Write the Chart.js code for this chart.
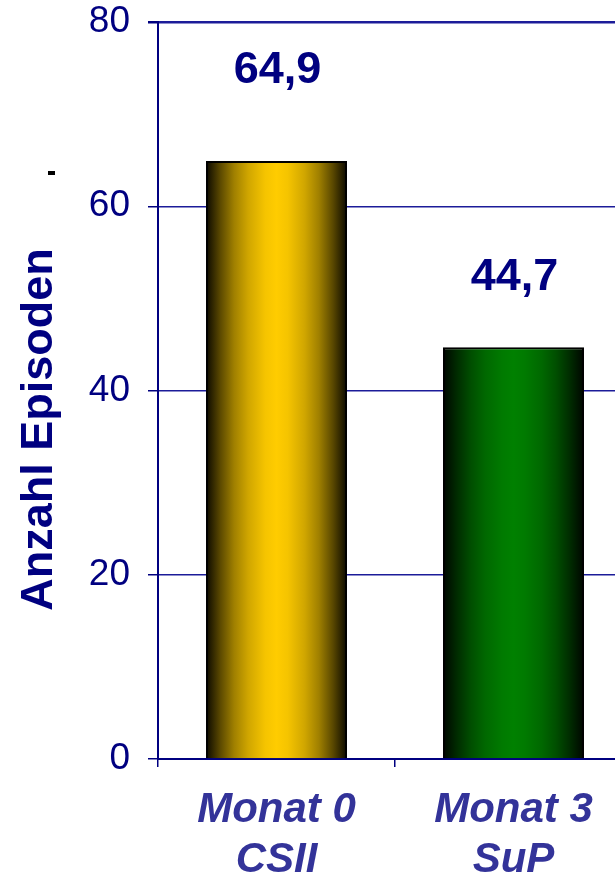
<!DOCTYPE html>
<html>
<head>
<meta charset="utf-8">
<script src="https://cdn.jsdelivr.net/npm/chart.js@4"></script>
<style>
  html, body { margin: 0; padding: 0; background: #fff; overflow: hidden; }
  #wrap { position: absolute; left: 0; top: 0; width: 640px; height: 875px; }
</style>
</head>
<body>
<div id="wrap"><canvas id="c"></canvas></div>
<script>
// Episodes per period
const categories = [['Monat 0', 'CSII'], ['Monat 3', 'SuP']];
const episodes = [64.9, 44.7];
const valueLabels = ['64,9', '44,7'];
const yTickValues = [0, 20, 40, 60, 80];
const axisTitle = 'Anzahl Episoden';

// Cylinder-like shading for each bar: dark edges, bright centre
const barShades = [
  [[0, '#0a0800'], [0.1, '#5a4800'], [0.2, '#a08000'], [0.3, '#d0a600'], [0.42, '#f5c400'], [0.5, '#ffcc00'],
   [0.58, '#f5c400'], [0.7, '#d0a600'], [0.8, '#a08000'], [0.9, '#5a4800'], [1, '#0a0800']],
  [[0, '#000500'], [0.1, '#002c00'], [0.2, '#004f00'], [0.3, '#006800'], [0.42, '#007a00'], [0.5, '#008000'],
   [0.58, '#007a00'], [0.7, '#006800'], [0.8, '#004f00'], [0.9, '#002c00'], [1, '#000500']]
];
const labelLift = [91, 70];

const NAVY = '#000080';
const BAR_FRACTION = 0.595;

function barFill(ctx) {
  const chart = ctx.chart;
  const xs = chart.scales.x;
  if (!chart.chartArea || !xs) return barShades[ctx.dataIndex][5][1];
  const cx = xs.getPixelForValue(ctx.dataIndex);
  const half = (xs.width / categories.length) * BAR_FRACTION / 2;
  const g = chart.ctx.createLinearGradient(cx - half, 0, cx + half, 0);
  barShades[ctx.dataIndex].forEach(([p, c]) => g.addColorStop(p, c));
  return g;
}

const valueLabelPlugin = {
  id: 'valueLabels',
  afterDatasetsDraw(chart) {
    const c = chart.ctx;
    const meta = chart.getDatasetMeta(0);
    c.save();
    c.font = 'bold 45px "Liberation Sans", Arial, sans-serif';
    c.fillStyle = NAVY;
    c.textAlign = 'center';
    c.textBaseline = 'middle';
    meta.data.forEach((bar, i) => {
      c.fillText(valueLabels[i], bar.x + 1, bar.y - labelLift[i]);
    });
    c.restore();
  }
};

const sideTitlePlugin = {
  id: 'sideTitle',
  afterDraw(chart) {
    const c = chart.ctx;
    const a = chart.chartArea;
    c.save();
    c.translate(40, a.top + (a.bottom - a.top) * 0.553);
    c.rotate(-Math.PI / 2);
    c.font = 'bold 45px "Liberation Sans", Arial, sans-serif';
    c.fillStyle = NAVY;
    c.textAlign = 'center';
    c.textBaseline = 'middle';
    c.fillText(axisTitle, 0, 0);
    c.restore();
    // small stray dot left of the axis
    c.save();
    c.fillStyle = '#000';
    c.fillRect(48, 171, 7, 4);
    c.restore();
  }
};

new Chart(document.getElementById('c'), {
  type: 'bar',
  data: {
    labels: categories,
    datasets: [{
      data: episodes,
      backgroundColor: barFill,
      borderColor: '#000',
      borderWidth: 2,
      categoryPercentage: 1,
      barPercentage: BAR_FRACTION
    }]
  },
  options: {
    responsive: true,
    maintainAspectRatio: false,
    animation: false,
    layout: { padding: { top: 22, left: 0, right: 8, bottom: 0 } },
    plugins: { legend: { display: false }, tooltip: { enabled: false } },
    scales: {
      y: {
        min: 0,
        max: 80,
        afterBuildTicks(scale) { scale.ticks = yTickValues.map(v => ({ value: v })); },
        afterFit(scale) {
          scale.width = 158;
          scale.paddingTop = 0;
          scale.paddingBottom = 0;
        },
        ticks: {
          color: NAVY,
          padding: 18,
          font: { family: '"Liberation Sans", Arial, sans-serif', size: 37, lineHeight: 1.2 }
        },
        grid: {
          color: '#1c1c99',
          lineWidth: (ctx) => (ctx.tick && ctx.tick.value === 80 ? 2.5 : 1.5),
          tickLength: 10,
          tickColor: NAVY
        },
        border: { display: true, color: NAVY, width: 2 }
      },
      x: {
        afterFit(scale) {
          scale.height = 116;
          scale.paddingLeft = 0;
          scale.paddingRight = 0;
        },
        ticks: {
          color: '#333399',
          padding: 18,
          maxRotation: 0,
          font: { family: '"Liberation Sans", Arial, sans-serif', size: 42, weight: 'bold', style: 'italic', lineHeight: 1.2 }
        },
        grid: {
          drawOnChartArea: false,
          drawTicks: true,
          tickLength: 8,
          color: NAVY,
          lineWidth: 1.5
        },
        border: { display: true, color: NAVY, width: 2 }
      }
    }
  },
  plugins: [valueLabelPlugin, sideTitlePlugin]
});
</script>
</body>
</html>
